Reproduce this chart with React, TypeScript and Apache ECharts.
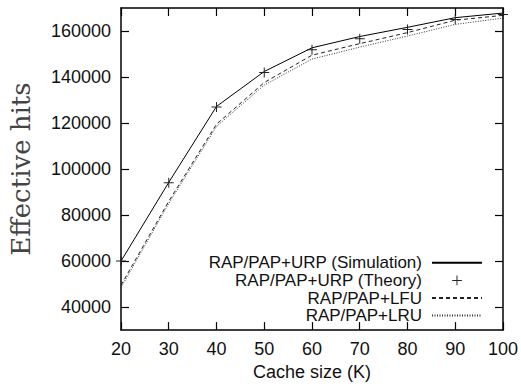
import React, { useEffect, useRef } from "react";
import * as echarts from "echarts";

// Cache sizes (K) along the x axis
const cacheSizes = [20, 30, 40, 50, 60, 70, 80, 90, 100];

// Effective hits for each policy
const urpSimulation = [60000, 94200, 127200, 142400, 152700, 157600, 161600, 165800, 167800];
const urpTheory = [60000, 94000, 127000, 142000, 151800, 156600, 160700, 165000, 167200];
const lfuHits = [49500, 86000, 119500, 137600, 149500, 154500, 159300, 164700, 166800];
const lruHits = [48500, 85000, 118500, 136500, 147800, 153000, 157800, 162900, 165600];

const yTickValues = [40000, 60000, 80000, 100000, 120000, 140000, 160000];
const xTickValues = [20, 30, 40, 50, 60, 70, 80, 90, 100];

const seriesNames = [
  "RAP/PAP+URP (Simulation)",
  "RAP/PAP+URP (Theory)",
  "RAP/PAP+LFU",
  "RAP/PAP+LRU",
];

const pairs = (ys: number[]) => cacheSizes.map((x, i) => [x, ys[i]]);

// filled plus sign used for the theory points
const PLUS =
  "path://M4.5,0 h1 v4.5 h4.5 v1 h-4.5 v4.5 h-1 v-4.5 h-4.5 v-1 h4.5 z";

const SANS = "'Liberation Sans', Arial, Helvetica, sans-serif";
const plain = (v: number) => String(v);

export default function App() {
  const ref = useRef<HTMLDivElement>(null);

  useEffect(() => {
    if (!ref.current) return;
    const chart = echarts.init(ref.current, null, { renderer: "svg" });

    const frameLine = { show: true, lineStyle: { color: "#000", width: 1.5 } };
    const tickStyle = { color: "#000", width: 1.2 };

    chart.setOption({
      animation: false,
      backgroundColor: "#fff",
      grid: { left: 117, right: 16, top: 8, bottom: 55, containLabel: false },
      xAxis: [
        {
          type: "value",
          min: 20,
          max: 100,
          interval: 10,
          position: "bottom",
          name: "Cache size (K)",
          nameLocation: "middle",
          nameGap: 31,
          nameTextStyle: { fontFamily: SANS, fontSize: 18, color: "#111" },
          axisLine: frameLine,
          axisTick: { show: true, inside: true, length: 8, lineStyle: tickStyle },
          axisLabel: {
            show: true,
            margin: 10,
            fontFamily: SANS,
            fontSize: 18,
            color: "#111",
            customValues: xTickValues,
            formatter: plain,
          },
          splitLine: { show: false },
        },
        {
          type: "value",
          min: 20,
          max: 100,
          interval: 10,
          position: "top",
          axisLine: frameLine,
          axisTick: { show: true, inside: true, length: 8, lineStyle: tickStyle },
          axisLabel: { show: false },
          splitLine: { show: false },
        },
      ],
      yAxis: [
        {
          type: "value",
          min: 30000,
          max: 170000,
          position: "left",
          name: "Effective hits",
          nameLocation: "middle",
          nameGap: 87,
          nameTextStyle: {
            fontFamily: "'DejaVu Serif', 'Liberation Serif', serif",
            fontSize: 26,
            color: "#444",
          },
          axisLine: frameLine,
          axisTick: {
            show: true,
            inside: true,
            length: 8,
            lineStyle: tickStyle,
            customValues: yTickValues,
          },
          axisLabel: {
            show: true,
            margin: 10,
            fontFamily: SANS,
            fontSize: 18,
            color: "#111",
            customValues: yTickValues,
            formatter: plain,
          },
          splitLine: { show: false },
        },
        {
          type: "value",
          min: 30000,
          max: 170000,
          position: "right",
          axisLine: frameLine,
          axisTick: {
            show: true,
            inside: true,
            length: 8,
            lineStyle: tickStyle,
            customValues: yTickValues,
          },
          axisLabel: { show: false },
          splitLine: { show: false },
        },
      ],
      legend: {
        orient: "vertical",
        align: "right",
        right: 38,
        top: 254,
        itemWidth: 50,
        itemHeight: 12,
        itemGap: 0,
        padding: 0,
        textStyle: {
          fontFamily: SANS,
          fontSize: 17,
          color: "#111",
          padding: [0, 5, 0, 0],
          lineHeight: 17.6,
        },
        data: [
          { name: seriesNames[0], itemStyle: { opacity: 0 } },
          { name: seriesNames[1] },
          { name: seriesNames[2], itemStyle: { opacity: 0 } },
          { name: seriesNames[3], itemStyle: { opacity: 0 } },
        ],
      },
      series: [
        {
          name: seriesNames[0],
          type: "line",
          data: pairs(urpSimulation),
          symbol: "none",
          lineStyle: { color: "#000", width: 1, type: "solid" },
          itemStyle: { color: "#000" },
          z: 4,
        },
        {
          name: seriesNames[1],
          type: "line",
          data: pairs(urpTheory),
          symbol: PLUS,
          symbolSize: 10,
          showSymbol: true,
          lineStyle: { color: "#000", width: 0, opacity: 0 },
          itemStyle: { color: "#222" },
          z: 5,
        },
        {
          name: seriesNames[2],
          type: "line",
          data: pairs(lfuHits),
          symbol: "none",
          lineStyle: { color: "#222", width: 1, type: [4, 3] },
          itemStyle: { color: "#222" },
          z: 3,
        },
        {
          name: seriesNames[3],
          type: "line",
          data: pairs(lruHits),
          symbol: "none",
          lineStyle: { color: "#333", width: 1, type: [1, 1.5] },
          itemStyle: { color: "#333" },
          z: 2,
        },
      ],
    });

    return () => chart.dispose();
  }, []);

  return (
    <div
      ref={ref}
      style={{ position: "absolute", left: 0, top: 0, width: 521, height: 386 }}
    />
  );
}
